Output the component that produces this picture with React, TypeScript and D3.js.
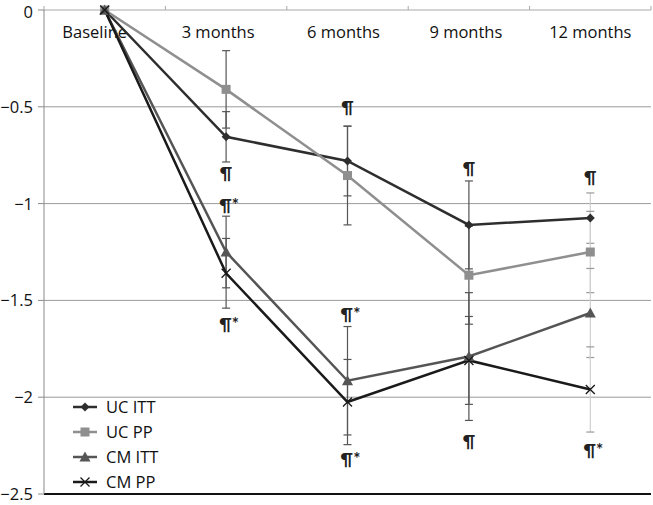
import React from "react";
import * as d3 from "d3";

const categories = ["Baseline", "3 months", "6 months", "9 months", "12 months"];
const seriesNames = ["UC ITT", "UC PP", "CM ITT", "CM PP"];
const ucItt = [0, -0.655, -0.78, -1.11, -1.075];
const ucPp = [0, -0.41, -0.855, -1.37, -1.25];
const cmItt = [0, -1.25, -1.915, -1.79, -1.565];
const cmPp = [0, -1.36, -2.025, -1.81, -1.96];
const ucIttErr = [0, 0.13, 0.18, 0.227, 0.13];
const ucPpErr = [0, 0.2, 0.255, 0.253, 0.21];
const cmIttErr = [0, 0.185, 0.28, 0.33, 0.23];
const cmPpErr = [0, 0.18, 0.22, 0.227, 0.22];
const yTicks = [0, -0.5, -1, -1.5, -2, -2.5];
const annCats = ["3 months", "3 months", "3 months", "6 months", "6 months", "6 months", "9 months", "9 months", "12 months", "12 months"];
const annValues = [-0.842, -1.007, -1.622, -0.5, -1.57, -2.32, -0.816, -2.226, -0.863, -2.273];
const annTexts = ["¶", "¶*", "¶*", "¶", "¶*", "¶*", "¶", "¶", "¶", "¶*"];

const seriesValues = [ucItt, ucPp, cmItt, cmPp];
const seriesErrs = [ucIttErr, ucPpErr, cmIttErr, cmPpErr];
const colors = ["#2e2e2e", "#8f8f8f", "#555555", "#1a1a1a"];
const markers = ["diamond", "square", "triangle", "x"];
const errColors = ["#555", "#555", "#555", "#555", "#cfcfcf"];
const errCapColors = ["#555", "#555", "#555", "#555", "#999"];
const labelShift = [-10, -8, -4, -3, 0];

const W = 653, H = 505;
const FONT = "'Open Sans', Lato, sans-serif";
const ANN_FONT = "Lato, 'DejaVu Sans', sans-serif";

function Marker({ type, x, y, color }: { type: string; x: number; y: number; color: string }) {
  if (type === "diamond") {
    const s = 4.5;
    return <path d={`M${x},${y - s}L${x + s},${y}L${x},${y + s}L${x - s},${y}Z`} fill={color} />;
  }
  if (type === "square") {
    const s = 4.5;
    return <rect x={x - s} y={y - s} width={2 * s} height={2 * s} fill={color} />;
  }
  if (type === "triangle") {
    const s = 5.5;
    return <path d={`M${x},${y - s}L${x + s},${y + s * 0.8}L${x - s},${y + s * 0.8}Z`} fill={color} />;
  }
  const s = 4.5;
  return (
    <path d={`M${x - s},${y - s}L${x + s},${y + s}M${x - s},${y + s}L${x + s},${y - s}`} stroke={color} strokeWidth={1.3} fill="none" />
  );
}

export default function App() {
  const x = d3.scaleBand<string>().domain(categories).range([44, 651]).padding(0);
  const y = d3.scaleLinear().domain([-2.5, 0]).range([494, 10]);
  const cx = (c: string) => (x(c) as number) + x.bandwidth() / 2;
  const line = d3
    .line<number>()
    .x((_, i) => cx(categories[i]))
    .y((d) => y(d));

  const boundaries = categories.map((c) => x(c) as number).concat([651]);

  return (
    <svg width={W} height={H} style={{ position: "absolute", left: 0, top: 0, background: "#fff" }} fontFamily={FONT}>
      {yTicks.filter((t) => t !== 0 && t !== -2.5).map((t) => (
        <line key={t} x1={44} x2={651} y1={y(t)} y2={y(t)} stroke="#9a9a9a" strokeWidth={1} />
      ))}
      <line x1={44} x2={651} y1={y(0)} y2={y(0)} stroke="#a8a8a8" strokeWidth={1} />
      {boundaries.map((b, i) => (
        <line key={i} x1={b} x2={b} y1={y(0) - 4} y2={y(0)} stroke="#a8a8a8" />
      ))}
      <line x1={44} x2={651} y1={y(-2.5)} y2={y(-2.5)} stroke="#111" strokeWidth={2} />
      <line x1={44} x2={44} y1={y(0)} y2={y(-2.5)} stroke="#8a8a8a" strokeWidth={1} />
      {yTicks.map((t) => (
        <g key={t}>
          <line x1={38} x2={44} y1={y(t)} y2={y(t)} stroke="#8a8a8a" />
          <text x={33} y={y(t) + (t === 0 ? 2 : 0)} dy="0.36em" textAnchor="end" fontSize={16.5} fill="#111">
            {t === 0 ? "0" : "\u2212" + d3.format("")(Math.abs(t))}
          </text>
        </g>
      ))}
      {categories.map((c, i) => (
        <text key={c} x={cx(c) + labelShift[i]} y={38} textAnchor="middle" fontSize={16.5} fill="#111">
          {c}
        </text>
      ))}
      {seriesValues.map((vals, si) =>
        vals.map((v, i) => {
          const e = seriesErrs[si][i];
          if (!e) return null;
          const px = cx(categories[i]);
          return (
            <g key={`e${si}-${i}`}>
              <line x1={px} x2={px} y1={y(v + e)} y2={y(v - e)} stroke={errColors[i]} strokeWidth={1.2} />
              <line x1={px - 4} x2={px + 4} y1={y(v + e)} y2={y(v + e)} stroke={errCapColors[i]} strokeWidth={1.2} />
              <line x1={px - 4} x2={px + 4} y1={y(v - e)} y2={y(v - e)} stroke={errCapColors[i]} strokeWidth={1.2} />
            </g>
          );
        })
      )}
      {seriesValues.map((vals, si) => (
        <path key={`l${si}`} d={line(vals) as string} fill="none" stroke={colors[si]} strokeWidth={2.5} />
      ))}
      {seriesValues.map((vals, si) =>
        vals.map((v, i) => <Marker key={`m${si}-${i}`} type={markers[si]} x={cx(categories[i])} y={y(v)} color={colors[si]} />)
      )}
      {annTexts.map((t, i) => (
        <text key={`a${i}`} x={cx(annCats[i]) + (t.length > 1 ? 3 : 0)} y={y(annValues[i])} dy="0.35em" textAnchor="middle" fontSize={17} fontWeight="bold" fill="#222" fontFamily={ANN_FONT}>
          {t}
        </text>
      ))}
      {seriesNames.map((n, i) => {
        const ly = 407 + i * 25;
        return (
          <g key={n}>
            <line x1={73} x2={97} y1={ly} y2={ly} stroke={colors[i]} strokeWidth={2.5} />
            <Marker type={markers[i]} x={85} y={ly} color={colors[i]} />
            <text x={106} y={ly} dy="0.35em" fontSize={16.5} fill="#111">
              {n}
            </text>
          </g>
        );
      })}
    </svg>
  );
}
